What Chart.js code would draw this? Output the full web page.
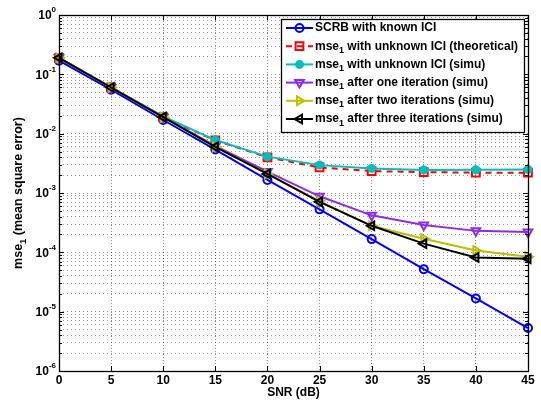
<!DOCTYPE html>
<html>
<head>
  <meta charset="utf-8" />
  <title>MSE vs SNR</title>
  <style>
    html, body { margin: 0; padding: 0; background: #fff; }
    #wrap { width: 541px; height: 401px; }
  </style>
</head>
<body>
<div id="wrap"><canvas id="graph" width="541" height="401"></canvas></div>

<script src="https://cdn.jsdelivr.net/npm/chart.js"></script>
<script>
  // SNR points (dB)
  var snr = [0, 5, 10, 15, 20, 25, 30, 35, 40, 45];

  // mean square error curves
  var scrbKnown = [0.17, 0.055, 0.017, 0.0054, 0.00166, 5.3e-4, 1.67e-4, 5.2e-5, 1.67e-5, 5.3e-6];
  var mseTheory = [0.19, 0.060, 0.019, 0.0077, 0.0040, 2.7e-3, 2.34e-3, 2.25e-3, 2.2e-3, 2.2e-3];
  var mseSimu   = [0.19, 0.061, 0.0195, 0.0078, 0.0041, 2.95e-3, 2.6e-3, 2.45e-3, 2.47e-3, 2.5e-3];
  var mseIter1  = [0.19, 0.060, 0.019, 0.0062, 0.0023, 8.8e-4, 4.2e-4, 2.9e-4, 2.3e-4, 2.2e-4];
  var mseIter2  = [0.19, 0.060, 0.019, 0.0060, 0.0021, 7.3e-4, 2.8e-4, 1.7e-4, 1.07e-4, 8.4e-5];
  var mseIter3  = [0.19, 0.060, 0.019, 0.0060, 0.0021, 7.1e-4, 2.8e-4, 1.4e-4, 8.2e-5, 7.8e-5];

  // axis ticks
  var xTicks = [0, 5, 10, 15, 20, 25, 30, 35, 40, 45];
  var yDecades = [0, -1, -2, -3, -4, -5, -6];

  var FONT = '"Liberation Sans", Arial, Helvetica, sans-serif';

  var series = [
    { label: ['SCRB with known ICI'], data: scrbKnown, color: '#0000ff', style: 'circle', radius: 4, fill: false, dash: [] },
    { label: ['mse', '1', ' with unknown ICI (theoretical)'], data: mseTheory, color: '#ff0000', style: 'rect', radius: 5.5, fill: false, dash: [6, 5] },
    { label: ['mse', '1', ' with unknown ICI (simu)'], data: mseSimu, color: '#00bfbf', style: 'circle', radius: 3.5, fill: true, dash: [] },
    { label: ['mse', '1', ' after one iteration (simu)'], data: mseIter1, color: '#8c2be8', style: 'triangle', rotation: 180, radius: 5, fill: false, dash: [] },
    { label: ['mse', '1', ' after two iterations (simu)'], data: mseIter2, color: '#bfbf00', style: 'triangle', rotation: 90, radius: 5, fill: false, dash: [] },
    { label: ['mse', '1', ' after three iterations (simu)'], data: mseIter3, color: '#000000', style: 'triangle', rotation: 270, radius: 5, fill: false, dash: [] }
  ];

  var datasets = series.map(function (s, i) {
    return {
      label: s.label.join(''),
      data: s.data.map(function (v, k) { return { x: snr[k], y: v }; }),
      borderColor: s.color,
      backgroundColor: s.color,
      borderWidth: 2,
      borderDash: s.dash,
      pointStyle: s.style,
      pointRotation: s.rotation || 0,
      pointRadius: s.radius,
      pointBorderWidth: 2,
      pointBorderColor: s.color,
      pointBackgroundColor: s.fill ? s.color : 'rgba(0,0,0,0)',
      tension: 0,
      clip: false,
      order: series.length - 1 - i
    };
  });

  // text with a subscript part: [normal, sub, normal]
  function richWidth(ctx, parts, size) {
    var w = 0;
    parts.forEach(function (p, i) {
      ctx.font = 'bold ' + (i === 1 ? size * 0.75 : size) + 'px ' + FONT;
      w += ctx.measureText(p).width;
    });
    return w;
  }
  function drawRich(ctx, parts, x, y, size) {
    parts.forEach(function (p, i) {
      ctx.font = 'bold ' + (i === 1 ? size * 0.75 : size) + 'px ' + FONT;
      ctx.fillText(p, x, i === 1 ? y + size * 0.35 : y);
      x += ctx.measureText(p).width;
    });
  }

  function drawMarker(ctx, s, x, y) {
    ctx.save();
    ctx.strokeStyle = s.color;
    ctx.fillStyle = s.color;
    ctx.lineWidth = 2;
    ctx.setLineDash([]);
    ctx.beginPath();
    var r = s.radius;
    if (s.style === 'circle') {
      ctx.arc(x, y, r, 0, Math.PI * 2);
    } else if (s.style === 'rect') {
      var h = r * Math.SQRT1_2;
      ctx.rect(x - h, y - h, 2 * h, 2 * h);
    } else {
      var rot = (s.rotation || 0) * Math.PI / 180;
      for (var k = 0; k < 3; k++) {
        var a = rot - Math.PI / 2 + k * 2 * Math.PI / 3;
        var px = x + Math.cos(a) * r, py = y + Math.sin(a) * r;
        if (k === 0) ctx.moveTo(px, py); else ctx.lineTo(px, py);
      }
      ctx.closePath();
    }
    if (s.fill) ctx.fill();
    ctx.stroke();
    ctx.restore();
  }

  var decorations = {
    id: 'decorations',
    afterDraw: function (chart) {
      var ctx = chart.ctx;
      var a = chart.chartArea;
      var xs = chart.scales.x, ys = chart.scales.y;
      ctx.save();

      // axes box
      ctx.strokeStyle = '#000';
      ctx.lineWidth = 1.3;
      ctx.setLineDash([]);
      ctx.strokeRect(Math.round(a.left) + 0.5, Math.round(a.top) + 0.5,
        Math.round(a.right - a.left), Math.round(a.bottom - a.top));

      // inward tick marks
      ctx.lineWidth = 1;
      ctx.beginPath();
      xTicks.forEach(function (v) {
        var px = Math.round(xs.getPixelForValue(v)) + 0.5;
        ctx.moveTo(px, a.bottom); ctx.lineTo(px, a.bottom - 5);
        ctx.moveTo(px, a.top); ctx.lineTo(px, a.top + 5);
      });
      ys.ticks.forEach(function (t) {
        var py = Math.round(ys.getPixelForValue(t.value)) + 0.5;
        var len = t.major ? 5 : 3;
        ctx.moveTo(a.left, py); ctx.lineTo(a.left + len, py);
        ctx.moveTo(a.right, py); ctx.lineTo(a.right - len, py);
      });
      ctx.stroke();

      // tick labels
      ctx.fillStyle = '#000';
      ctx.textBaseline = 'middle';
      ctx.textAlign = 'center';
      ctx.font = 'bold 12px ' + FONT;
      xTicks.forEach(function (v) {
        ctx.fillText(String(v), xs.getPixelForValue(v), a.bottom + 10);
      });
      ctx.textAlign = 'left';
      yDecades.forEach(function (e) {
        var py = ys.getPixelForValue(Math.pow(10, e));
        var sup = e === 0 ? '0' : '-' + Math.abs(e);
        ctx.font = 'bold 12px ' + FONT;
        var w1 = ctx.measureText('10').width;
        ctx.font = 'bold 8px ' + FONT;
        var w2 = ctx.measureText(sup).width;
        var x0 = a.left - 3 - w1 - w2;
        ctx.font = 'bold 12px ' + FONT;
        ctx.fillText('10', x0, py + 1);
        ctx.font = 'bold 8px ' + FONT;
        ctx.fillText(sup, x0 + w1, py - 5);
      });

      // axis titles
      ctx.textAlign = 'center';
      ctx.font = 'bold 12px ' + FONT;
      ctx.fillText('SNR (dB)', (a.left + a.right) / 2, a.bottom + 22);

      ctx.save();
      ctx.translate(19, (a.top + a.bottom) / 2);
      ctx.rotate(-Math.PI / 2);
      ctx.textAlign = 'left';
      var ttl = ['mse', '1', ' (mean square error)'];
      var tw = richWidth(ctx, ttl, 12.5);
      drawRich(ctx, ttl, -tw / 2, 0, 12.5);
      ctx.restore();

      // legend
      var lx = 281, ly = 19, lw = 243, lh = 113;
      ctx.fillStyle = '#fff';
      ctx.fillRect(lx, ly, lw, lh);
      ctx.strokeStyle = '#000';
      ctx.lineWidth = 1.3;
      ctx.strokeRect(lx + 0.5, ly + 0.5, lw, lh);
      series.forEach(function (s, i) {
        var y = 28 + i * 18.2;
        ctx.save();
        ctx.strokeStyle = s.color;
        ctx.lineWidth = 2;
        ctx.setLineDash(s.dash);
        ctx.beginPath();
        ctx.moveTo(286, y); ctx.lineTo(313, y);
        ctx.stroke();
        ctx.restore();
        drawMarker(ctx, s, 299.5, y);
        ctx.fillStyle = '#000';
        ctx.textAlign = 'left';
        ctx.textBaseline = 'middle';
        drawRich(ctx, s.label, 315, y, 12);
      });

      ctx.restore();
    }
  };

  var ctx = document.getElementById('graph').getContext('2d');
  var chart = new Chart(ctx, {
    type: 'line',
    data: { datasets: datasets },
    plugins: [decorations],
    options: {
      responsive: false,
      animation: false,
      devicePixelRatio: 1,
      layout: { padding: { left: 59, top: 15, right: 13, bottom: 30 } },
      plugins: { legend: { display: false }, tooltip: { enabled: false } },
      scales: {
        x: {
          type: 'linear', min: 0, max: 45,
          afterBuildTicks: function (scale) {
            scale.ticks = xTicks.map(function (v) { return { value: v }; });
          },
          ticks: { display: false },
          grid: { color: 'rgba(0,0,0,0.45)', lineWidth: 1, drawTicks: false },
          border: { display: false, dash: [1, 2] }
        },
        y: {
          type: 'logarithmic', min: 1e-6, max: 1,
          afterBuildTicks: function (scale) {
            var t = [];
            yDecades.forEach(function (e) {
              for (var m = 1; m <= 9; m++) {
                var v = m * Math.pow(10, e);
                if (v <= 1.0000001) t.push({ value: v, major: m === 1 });
              }
            });
            scale.ticks = t;
          },
          ticks: { display: false },
          grid: { color: 'rgba(0,0,0,0.4)', lineWidth: 1, drawTicks: false },
          border: { display: false, dash: [1, 3] }
        }
      }
    }
  });
</script>
</body>
</html>
